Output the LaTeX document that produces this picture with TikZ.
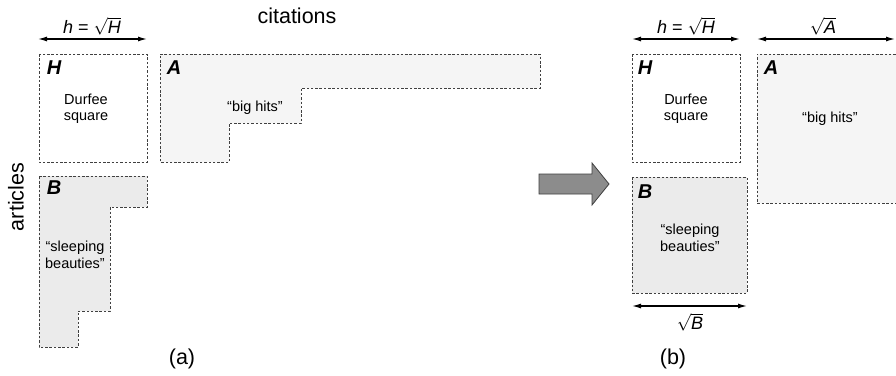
\documentclass[tikz,border=0pt]{standalone}
\usepackage{fontspec}
\setmainfont{Liberation Sans}
\usetikzlibrary{arrows.meta}
\tikzset{
	cell/.style={draw=black!75,dash pattern=on 2.5pt off 1.8pt,line width=0.8pt},
	dim/.style={{Latex[length=9pt,width=5pt]}-{Latex[length=9pt,width=5pt]},line width=1.2pt},
	lbl/.style={font=\fontsize{14.5}{16.5}\selectfont,align=center},
	dimlbl/.style={font=\fontsize{18}{20}\selectfont},
	tag/.style={font=\fontsize{20}{22}\selectfont\bfseries\itshape},
	big/.style={font=\fontsize{21.5}{24}\selectfont}
}
\begin{document}
\begin{tikzpicture}[x=1pt,y=-1pt]
	\useasboundingbox (0,0) rectangle (896,375);
	\fill[white] (0,0) rectangle (896,375);
	% (a)
	\coordinate (ahL) at (38,39);
	\coordinate (ahR) at (147,39);
	\draw[dim] (ahL) -- (ahR);
	\node[dimlbl] (ahlbl) at (92,26) {\textit{h} = $\sqrt{\textit{H}}$};
	\node[big] (cit) at (297,16) {citations};
	\node[big,rotate=90] (art) at (16,197) {articles};
	\draw[cell] (39,54) rectangle (147,162);
	\fill[black!4] (160,54) -- (540,54) -- (540,88) -- (301,88) -- (301,123) -- (229,123) -- (229,162) -- (160,162) -- cycle;
	\draw[cell] (160,54) -- (540,54) -- (540,88) -- (301,88) -- (301,123) -- (229,123) -- (229,162) -- (160,162) -- cycle;
	\fill[black!8] (39,176) -- (147,176) -- (147,207) -- (110,207) -- (110,311) -- (78,311) -- (78,347) -- (39,347) -- cycle;
	\draw[cell] (39,176) -- (147,176) -- (147,207) -- (110,207) -- (110,311) -- (78,311) -- (78,347) -- (39,347) -- cycle;
	\node[tag] (aH) at (54,68) {H};
	\node[lbl] (aDur) at (86,109) {Durfee\\square};
	\node[tag] (aA) at (174,68) {A};
	\node[lbl] (aHits) at (255,108) {``big hits''};
	\node[tag] (aB) at (54,188) {B};
	\node[lbl] (aSleep) at (75,255) {``sleeping\\beauties''};
	\node[big] (capa) at (182,359) {(a)};
	% arrow
	\draw[fill=black!45,draw=black!75,line width=0.8pt] (539,174) -- (592,174) -- (592,163) -- (609,184) -- (592,205) -- (592,194) -- (539,194) -- cycle;
	% (b)
	\coordinate (bhL) at (632,39);
	\coordinate (bhR) at (740,39);
	\draw[dim] (bhL) -- (bhR);
	\node[dimlbl] (bhlbl) at (686,26) {\textit{h} = $\sqrt{\textit{H}}$};
	\coordinate (baL) at (757,39);
	\coordinate (baR) at (895,39);
	\draw[dim] (baL) -- (baR);
	\node[dimlbl] (balbl) at (823,26) {$\sqrt{\textit{A}}$};
	\draw[cell] (632,54) rectangle (740,162);
	\fill[black!4] (757,54) rectangle (900,203);
	\draw[cell] (900,54) -- (757,54) -- (757,203) -- (900,203);
	\fill[black!8] (632,177) rectangle (747,293);
	\draw[cell] (632,177) rectangle (747,293);
	\coordinate (bbL) at (632,306);
	\coordinate (bbR) at (747,306);
	\draw[dim] (bbL) -- (bbR);
	\node[dimlbl] (bblbl) at (690,322) {$\sqrt{\textit{B}}$};
	\node[tag] (bH) at (645,68) {H};
	\node[lbl] (bDur) at (686,109) {Durfee\\square};
	\node[tag] (bA) at (771,68) {A};
	\node[lbl] (bHits) at (830,119) {``big hits''};
	\node[tag] (bB) at (645,192) {B};
	\node[lbl] (bSleep) at (690,238) {``sleeping\\beauties''};
	\node[big] (capb) at (673,359) {(b)};
\end{tikzpicture}
\end{document}
